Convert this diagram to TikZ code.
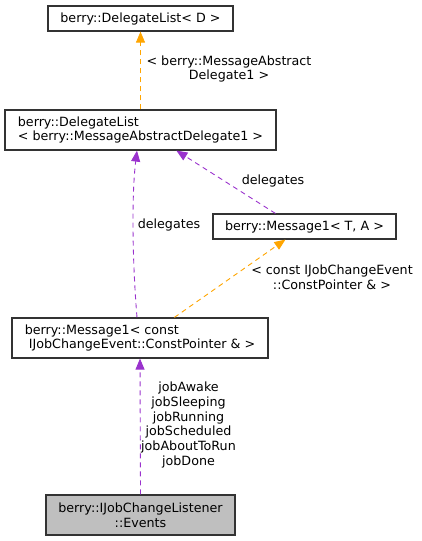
\documentclass[tikz,border=0pt]{standalone}
\usepackage{fontspec}
\setmainfont{DejaVu Sans}
\usetikzlibrary{arrows.meta,calc}
\definecolor{edgeorange}{HTML}{FFA500}
\definecolor{edgepurple}{HTML}{9A32CD}
\definecolor{boxgray}{HTML}{BFBFBF}
\definecolor{boxline}{HTML}{333333}
\tikzset{
  box/.style={draw=boxline, line width=1.2pt, fill=white, inner sep=0pt, align=left,
    font=\fontsize{12.7}{14.7}\selectfont},
  lbl/.style={inner sep=0pt, align=center, font=\fontsize{12.7}{14.7}\selectfont},
  dep/.style={line width=0.9pt, dash pattern=on 5pt off 4pt,
    -{Triangle[length=11pt,width=9pt]}},
  orangeedge/.style={dep, draw=edgeorange},
  purpleedge/.style={dep, draw=edgepurple},
}
\begin{document}
\begin{tikzpicture}[x=1pt,y=-1pt]
\useasboundingbox (0,0) rectangle (421,541);
\node[box, minimum width=185pt, minimum height=25pt] (b1) at (140.5,18.5) {berry::DelegateList< D >};
\node[box, minimum width=271pt, minimum height=40pt] (b2) at (140.5,130) {berry::DelegateList\\< berry::MessageAbstractDelegate1 >};
\node[box, minimum width=183pt, minimum height=25pt] (b3) at (304.5,226.5) {berry::Message1< T, A >};
\node[box, minimum width=256pt, minimum height=40pt] (b4) at (140,338) {berry::Message1< const\\\ IJobChangeEvent::ConstPointer \& >};
\node[box, fill=boxgray, align=center, minimum width=189pt, minimum height=40pt] (b5) at (140.5,515) {berry::IJobChangeListener\\::Events};

\draw[orangeedge] (b2.north) -- (b1.south);
\draw[purpleedge] ($(b3.north west)+(63,0)$) -- ($(b2.south west)+(172,0)$);
\draw[purpleedge] ($(b4.north)+(-3,0)$) .. controls (133,270) and (131,200) .. ($(b2.south)+(-3.5,0)$);
\draw[orangeedge] ($(b4.north west)+(163,0)$) -- ($(b3.south west)+(73,0)$);
\draw[purpleedge] (b5.north) -- (b4.south);

\node[lbl] (l1) at (229,69) {< berry::MessageAbstract\\Delegate1 >};
\node[lbl] (l2) at (273,181) {delegates};
\node[lbl] (l3) at (169,225) {delegates};
\node[lbl] (l4) at (332,277) {< const IJobChangeEvent\\::ConstPointer \& >};
\node[lbl] (l5) at (188.5,425) {jobAwake\\jobSleeping\\jobRunning\\jobScheduled\\jobAboutToRun\\jobDone};
\end{tikzpicture}
\end{document}
